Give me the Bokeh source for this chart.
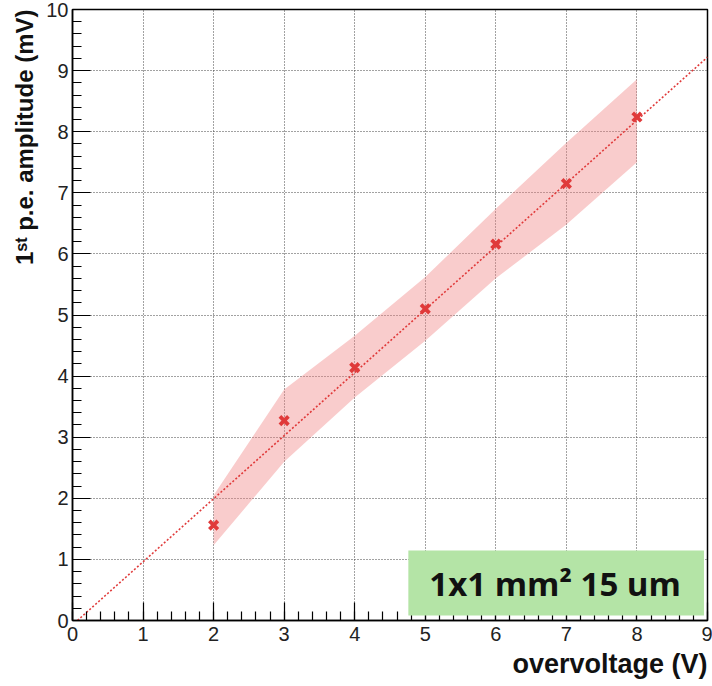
from bokeh.plotting import figure
from bokeh.models import Range1d, SingleIntervalTicker, Label, BoxAnnotation, Title
from bokeh.embed import file_html
from bokeh.resources import INLINE

# Measured first photo-electron amplitude versus overvoltage
overvoltage = [2, 3, 4, 5, 6, 7, 8]
amplitude = [1.56, 3.27, 4.14, 5.10, 6.16, 7.15, 8.24]
band_upper = [2.05, 3.78, 4.66, 5.62, 6.74, 7.82, 8.86]
band_lower = [1.23, 2.60, 3.65, 4.58, 5.60, 6.48, 7.50]

# Linear fit drawn across the axis range
fit_x = [0.07, 9.0]
fit_y = [0.0, 9.22]

FONT = "Liberation Sans"
RED = "#e03a3a"

p = figure(width=712, height=686, output_backend="svg", toolbar_location=None,
           x_range=Range1d(0, 9), y_range=Range1d(0, 10),
           min_border_left=72, min_border_right=5, min_border_top=9,
           min_border_bottom=66)
p.background_fill_color = "white"
p.border_fill_color = "white"
p.outline_line_color = "black"
p.outline_line_width = 1.5

for ax in (p.xaxis[0], p.yaxis[0]):
    ax.ticker = SingleIntervalTicker(interval=1, num_minor_ticks=5)
    ax.axis_line_color = "black"
    ax.axis_line_width = 1.5
    ax.major_tick_in = 18
    ax.major_tick_out = 0
    ax.minor_tick_in = 9
    ax.minor_tick_out = 0
    ax.major_tick_line_color = "black"
    ax.minor_tick_line_color = "black"
    ax.major_tick_line_width = 1.2
    ax.minor_tick_line_width = 1.2
    ax.major_label_text_font = FONT
    ax.major_label_text_font_size = "20px"
    ax.major_label_text_color = "#222222"

p.xaxis.major_label_standoff = 6
p.yaxis.major_label_standoff = 4

# axis titles, right-aligned like ROOT's default
p.add_layout(Title(text="overvoltage (V)", align="right", text_font=FONT,
                   text_font_style="bold", text_font_size="27px",
                   text_color="#111111", standoff=7), "below")
p.add_layout(Title(text="1\u02e2\u1d57 p.e. amplitude (mV)", align="right",
                   text_font=FONT, text_font_style="bold",
                   text_font_size="24px", text_color="#111111",
                   standoff=12), "left")

p.grid.grid_line_color = "#444444"
p.grid.grid_line_dash = "1 2"
p.grid.grid_line_width = 1
p.xgrid.ticker = SingleIntervalTicker(interval=1)
p.ygrid.ticker = SingleIntervalTicker(interval=1)

# uncertainty band
band_x = overvoltage + overvoltage[::-1]
band_y = band_upper + band_lower[::-1]
p.patch(band_x, band_y, fill_color="#f08080", fill_alpha=0.4, line_color=None)

# fit line
p.line(fit_x, fit_y, line_color=RED, line_width=1.6, line_dash="2 2")

# data points
p.scatter(overvoltage, amplitude, marker="x", size=12, line_color=RED,
          line_width=3.8)

# device label box
p.add_layout(BoxAnnotation(left=4.76, right=8.95, bottom=0.082, top=1.146,
                           fill_color="#b4e4a6", fill_alpha=1.0,
                           line_color=None, level="overlay"))
p.add_layout(Label(x=6.84, y=0.61, text="1x1 mm\u00b2 15 um", text_align="center",
                   text_baseline="alphabetic", text_font="Open Sans",
                   text_font_style="bold", text_font_size="33px",
                   text_color="#111111", level="overlay"))

open("out.html", "w").write(file_html(p, INLINE))
